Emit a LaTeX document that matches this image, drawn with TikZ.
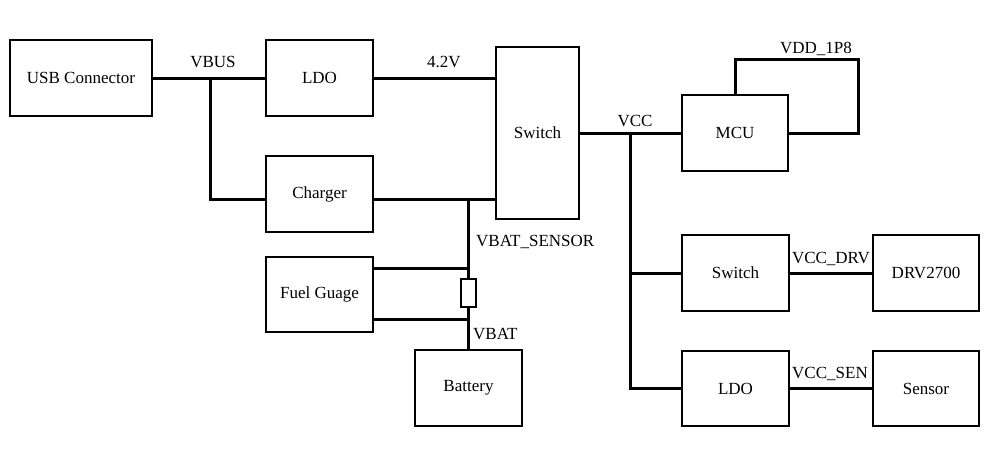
\documentclass[tikz,border=0pt]{standalone}
\usepackage{fontspec}
\setmainfont{Liberation Serif}
\begin{document}
\begin{tikzpicture}[x=1pt,y=-1pt,
  blk/.style={draw,line width=1.3pt,inner sep=0pt,font=\fontsize{17}{20}\selectfont},
  wire/.style={line width=3pt},
  lbl/.style={inner sep=0pt,font=\fontsize{17}{20}\selectfont}]
\useasboundingbox (0,0) rectangle (999,448);
% blocks
\node[blk,minimum width=142pt,minimum height=76pt] (usb) at (81,78) {USB Connector};
\node[blk,minimum width=107pt,minimum height=76pt] (ldoa) at (319.5,78) {LDO};
\node[blk,minimum width=107pt,minimum height=76pt] (chg) at (319.5,194) {Charger};
\node[blk,minimum width=83pt,minimum height=172pt] (swa) at (537.5,133) {Switch};
\node[blk,minimum width=106pt,minimum height=76pt] (mcu) at (735,133) {MCU};
\node[blk,minimum width=107pt,minimum height=75pt] (fuel) at (319.5,294.5) {Fuel Guage};
\node[blk,minimum width=107pt,minimum height=76pt] (bat) at (468.5,388) {Battery};
\node[blk,minimum width=107pt,minimum height=76pt] (swb) at (735.5,273) {Switch};
\node[blk,minimum width=106pt,minimum height=76pt] (drv) at (926,273) {DRV2700};
\node[blk,minimum width=107pt,minimum height=75pt] (ldob) at (735.5,388.5) {LDO};
\node[blk,minimum width=106pt,minimum height=75pt] (sen) at (926,388.5) {Sensor};
\node[draw,line width=1.3pt,inner sep=0pt,minimum width=15pt,minimum height=28pt] (res) at (468.5,293) {};
% junctions
\coordinate (vbus) at (210,78);
\coordinate (vbj) at (468.5,199);
\coordinate (fa) at (468.5,268);
\coordinate (fb) at (468.5,319);
\coordinate (vcc) at (630,133);
\coordinate (vddtop) at (858,59);
% wires
\draw[wire] (usb.east) -- (ldoa.west);
\draw[wire] (vbus) |- ([yshift=-5pt]chg.west);
\draw[wire] (ldoa.east) -- (swa.west |- ldoa.east);
\draw[wire] ([yshift=-5pt]chg.east) -- (swa.west |- vbj);
\draw[wire] (vbj) -- (res.north);
\draw[wire] (res.south) -- (bat.north);
\draw[wire] (fuel.east |- fa) -- (fa);
\draw[wire] (fuel.east |- fb) -- (fb);
\draw[wire] (swa.east) -- (mcu.west);
\draw[wire] (mcu.north) |- (vddtop) |- (mcu.east);
\draw[wire] (vcc) |- (ldob.west);
\draw[wire] (vcc |- swb.west) -- (swb.west);
\draw[wire] (swb.east) -- (drv.west);
\draw[wire] (ldob.east) -- (sen.west);
% labels
\node[lbl] (lvbus) at (213,62) {VBUS};
\node[lbl] (l42) at (444,62) {4.2V};
\node[lbl] (lvcc) at (635,121) {VCC};
\node[lbl] (lvdd) at (816,49) {VDD\_1P8};
\node[lbl,anchor=west] (lvbs) at (476,242) {VBAT\_SENSOR};
\node[lbl,anchor=west] (lvbat) at (473,334) {VBAT};
\node[lbl] (ldrv) at (831,259) {VCC\_DRV};
\node[lbl] (lsen) at (830,374) {VCC\_SEN};
\end{tikzpicture}
\end{document}
